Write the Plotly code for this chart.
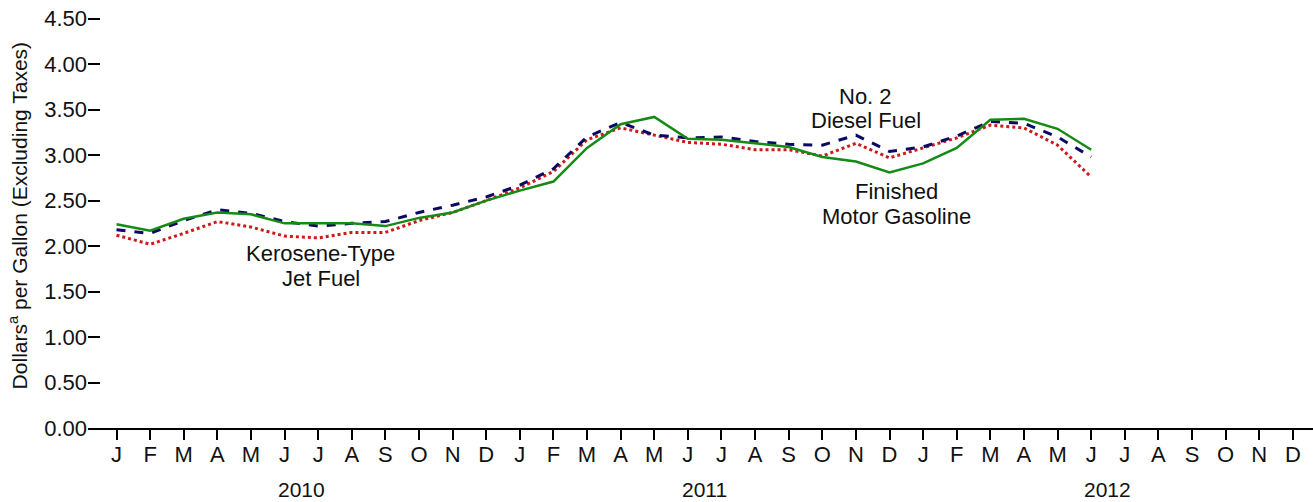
import plotly.graph_objects as go

month_labels = ["J", "F", "M", "A", "M", "J", "J", "A", "S", "O", "N", "D"] * 3
year_labels = ["2010", "2011", "2012"]
year_centers = [5.5, 17.5, 29.5]

gasoline = [2.24, 2.17, 2.30, 2.37, 2.35, 2.25, 2.25, 2.25, 2.22, 2.31, 2.37, 2.50,
            2.61, 2.71, 3.08, 3.34, 3.42, 3.18, 3.17, 3.13, 3.09, 2.98, 2.93, 2.81,
            2.91, 3.08, 3.39, 3.40, 3.29, 3.06]
diesel = [2.18, 2.14, 2.28, 2.40, 2.36, 2.27, 2.22, 2.25, 2.27, 2.37, 2.45, 2.54,
          2.67, 2.85, 3.20, 3.36, 3.22, 3.19, 3.20, 3.15, 3.12, 3.11, 3.22, 3.04,
          3.09, 3.21, 3.37, 3.35, 3.20, 2.98]
jet = [2.12, 2.02, 2.14, 2.27, 2.21, 2.11, 2.09, 2.15, 2.15, 2.28, 2.37, 2.50,
       2.64, 2.82, 3.17, 3.30, 3.22, 3.14, 3.12, 3.06, 3.06, 2.99, 3.13, 2.97,
       3.08, 3.19, 3.33, 3.30, 3.11, 2.76]

x = list(range(len(gasoline)))
FONT = "Liberation Sans, Arial, sans-serif"

fig = go.Figure()
fig.add_trace(go.Scatter(x=x, y=jet, mode="lines", name="Kerosene-Type Jet Fuel",
                         line=dict(color="#cc1a1a", width=3, dash="dot")))
fig.add_trace(go.Scatter(x=x, y=diesel, mode="lines", name="No. 2 Diesel Fuel",
                         line=dict(color="#0a0a64", width=3, dash="dash")))
fig.add_trace(go.Scatter(x=x, y=gasoline, mode="lines", name="Finished Motor Gasoline",
                         line=dict(color="#158a15", width=2.5)))

annotations = []
for txt, xx, yy in [("Kerosene-Type", 6.08, 1.915), ("Jet Fuel", 6.08, 1.645),
                    ("No. 2", 22.3, 3.65), ("Diesel Fuel", 22.3, 3.38),
                    ("Finished", 23.2, 2.60), ("Motor Gasoline", 23.2, 2.33)]:
    annotations.append(dict(x=xx, y=yy, xref="x", yref="y", text=txt, showarrow=False,
                            font=dict(size=22, color="#111111", family=FONT),
                            xanchor="center", yanchor="middle"))
for lab, c in zip(year_labels, year_centers):
    annotations.append(dict(x=c, y=-0.149, xref="x", yref="paper", text=lab, showarrow=False,
                            font=dict(size=21, color="#111111", family=FONT),
                            xanchor="center", yanchor="middle"))
annotations.append(dict(x=-0.0575, y=0.515, xref="paper", yref="paper",
                        text="Dollars<sup>a</sup> per Gallon (Excluding Taxes)",
                        textangle=-90, showarrow=False,
                        font=dict(size=21, color="#111111", family=FONT),
                        xanchor="center", yanchor="middle"))

fig.update_layout(
    width=1313, height=502,
    margin=dict(l=88, r=0, t=16, b=74),
    plot_bgcolor="white", paper_bgcolor="white",
    showlegend=False,
    font=dict(family=FONT, color="#111111"),
    annotations=annotations,
    xaxis=dict(range=[-0.848, 35.6], tickmode="array", tickvals=list(range(36)),
               ticktext=month_labels, showgrid=False, zeroline=False,
               showline=True, linecolor="black", linewidth=2,
               ticks="outside", ticklen=10, tickwidth=2, tickcolor="black",
               ticklabelstandoff=-4,
               tickfont=dict(size=22, family=FONT, color="#111111")),
    yaxis=dict(range=[0, 4.53], tickmode="array",
               tickvals=[0, 0.5, 1, 1.5, 2, 2.5, 3, 3.5, 4, 4.5],
               ticktext=["0.00", "0.50", "1.00", "1.50", "2.00", "2.50", "3.00", "3.50", "4.00", "4.50"],
               showgrid=False, zeroline=False, showline=False,
               ticks="inside", ticklen=12, tickwidth=2, tickcolor="black",
               tickfont=dict(size=22, family=FONT, color="#111111")),
)

fig.write_html("out.html", config={"displayModeBar": False},
               post_script="document.body.style.margin='0';document.body.style.overflow='hidden';")
